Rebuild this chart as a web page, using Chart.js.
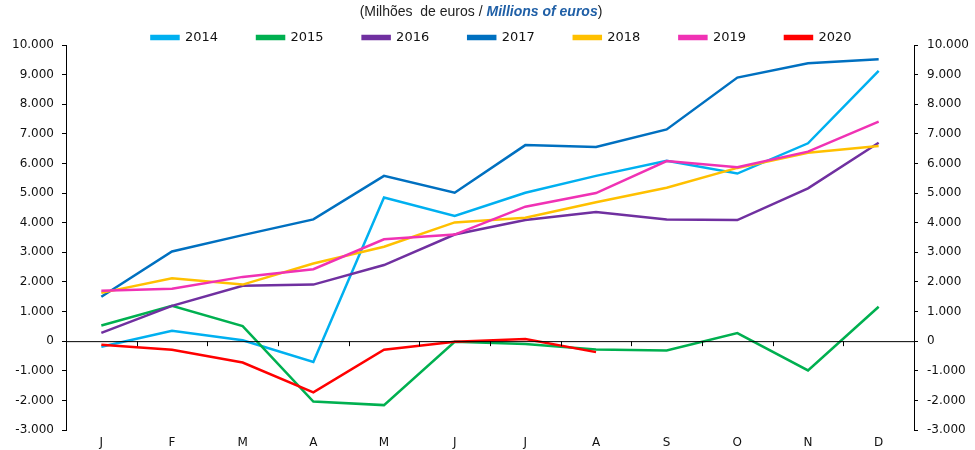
<!DOCTYPE html>
<html lang="pt">
<head>
<meta charset="utf-8">
<title>Milhões de euros</title>
<script src="https://cdn.jsdelivr.net/npm/chart.js@4/dist/chart.umd.min.js"></script>
<style>
  html, body { margin: 0; padding: 0; background: #fff; }
  #cadre { position: relative; width: 975px; height: 450px; }
  #sous-titre {
    position: absolute; top: 3px; left: 0; width: 962px; text-align: center;
    font: 14px "Liberation Sans Narrow", "Liberation Sans", Arial, sans-serif; color: #222;
  }
  #sous-titre b { color: #1f5fa6; font-style: italic; }
</style>
</head>
<body>
<div id="cadre">
  <div id="sous-titre">(Milhões&nbsp; de euros / <b>Millions of euros</b>)</div>
  <canvas id="graph" width="975" height="450"></canvas>
</div>
<script>
// Mois (axe des categories)
const mois = ["J", "F", "M", "A", "M", "J", "J", "A", "S", "O", "N", "D"];

// Valeurs (millions d'euros)
const v2014 = [-190, 350, 30, -700, 4850, 4230, 5010, 5580, 6090, 5660, 6680, 9130];
const v2015 = [530, 1190, 510, -2040, -2160, -20, -100, -280, -315, 270, -990, 1160];
const v2016 = [280, 1190, 1870, 1910, 2570, 3600, 4090, 4360, 4110, 4090, 5160, 6700];
const v2017 = [1500, 3030, 3580, 4110, 5580, 5010, 6620, 6560, 7150, 8900, 9380, 9520];
const v2018 = [1630, 2120, 1910, 2620, 3190, 4010, 4170, 4690, 5180, 5850, 6360, 6590];
const v2019 = [1700, 1770, 2170, 2430, 3440, 3600, 4540, 5000, 6080, 5870, 6400, 7410];
const v2020 = [-120, -290, -720, -1730, -290, -20, 70, -370];

const annees = ["2014", "2015", "2016", "2017", "2018", "2019", "2020"];
const series = [v2014, v2015, v2016, v2017, v2018, v2019, v2020];
const couleurs = ["#00b0f0", "#00b050", "#7030a0", "#0070c0", "#ffc000", "#f032b4", "#ff0000"];

const yMin = -3000;
const yMax = 10000;
const yPas = 1000;

const police = "'DejaVu Sans', 'Liberation Sans', sans-serif";

// Format portugais : 10.000 / -3.000
function formatNombre(v) {
  return v.toLocaleString("de-DE");
}

// Ligne du zero avec les petites graduations des mois
const ligneZero = {
  id: "ligneZero",
  afterDatasetsDraw(chart) {
    const x = chart.scales.x;
    const y0 = chart.scales.y.getPixelForValue(0);
    const ctx = chart.ctx;
    ctx.save();
    ctx.strokeStyle = "#000";
    ctx.lineWidth = 1;
    ctx.beginPath();
    ctx.moveTo(chart.chartArea.left, y0 + 0.5);
    ctx.lineTo(chart.chartArea.right, y0 + 0.5);
    for (let i = 0; i <= mois.length; i++) {
      const px = Math.round(x.getPixelForValue(i - 0.5)) + 0.5;
      ctx.moveTo(px, y0);
      ctx.lineTo(px, y0 + 5);
    }
    ctx.stroke();
    ctx.restore();
  }
};

// Hauteur fixe de la legende pour caler la zone du graphique,
// et petit decalage vers la droite comme sur l'original
const reglageLegende = {
  id: "reglageLegende",
  beforeInit(chart) {
    const fitOrig = chart.legend.fit;
    chart.legend.fit = function () {
      fitOrig.bind(chart.legend)();
      this.height = 53;
    };
  },
  afterLayout(chart) {
    chart.legend.left += 14;
    chart.legend.right += 14;
  }
};

new Chart(document.getElementById("graph"), {
  type: "line",
  data: {
    labels: mois,
    datasets: annees.map((a, i) => ({
      label: a,
      data: series[i],
      borderColor: couleurs[i],
      backgroundColor: couleurs[i],
      borderWidth: 2.5,
      pointRadius: 0,
      tension: 0,
      fill: false,
      order: annees.length - i,
      yAxisID: "y"
    }))
  },
  options: {
    responsive: false,
    animation: false,
    layout: { padding: { top: -8, left: 0, right: 0, bottom: 0 } },
    plugins: {
      legend: {
        position: "top",
        labels: {
          boxWidth: 27,
          boxHeight: 3,
          padding: 39,
          color: "#111",
          font: { family: police, size: 13 },
          sort: (a, b) => a.datasetIndex - b.datasetIndex
        }
      },
      tooltip: { enabled: false }
    },
    scales: {
      x: {
        offset: true,
        grid: { display: false, drawTicks: false },
        border: { display: false },
        ticks: { color: "#111", padding: 6, font: { family: police, size: 12 }, maxRotation: 0 },
        afterFit: (s) => { s.height = 20; }
      },
      y: {
        position: "left",
        min: yMin,
        max: yMax,
        ticks: {
          stepSize: yPas,
          color: "#111",
          padding: 8,
          font: { family: police, size: 12 },
          callback: (v) => formatNombre(v)
        },
        grid: {
          drawOnChartArea: false,
          tickLength: 4,
          tickColor: "#000"
        },
        border: { display: true, color: "#000", width: 1 },
        afterFit: (s) => { s.width = 66; }
      },
      y2: {
        position: "right",
        min: yMin,
        max: yMax,
        ticks: {
          stepSize: yPas,
          color: "#111",
          padding: 9,
          font: { family: police, size: 12 },
          callback: (v) => formatNombre(v)
        },
        grid: {
          drawOnChartArea: false,
          tickLength: 4,
          tickColor: "#000"
        },
        border: { display: true, color: "#000", width: 1 },
        afterFit: (s) => { s.width = 61; }
      }
    }
  },
  plugins: [ligneZero, reglageLegende]
});
</script>
</body>
</html>
